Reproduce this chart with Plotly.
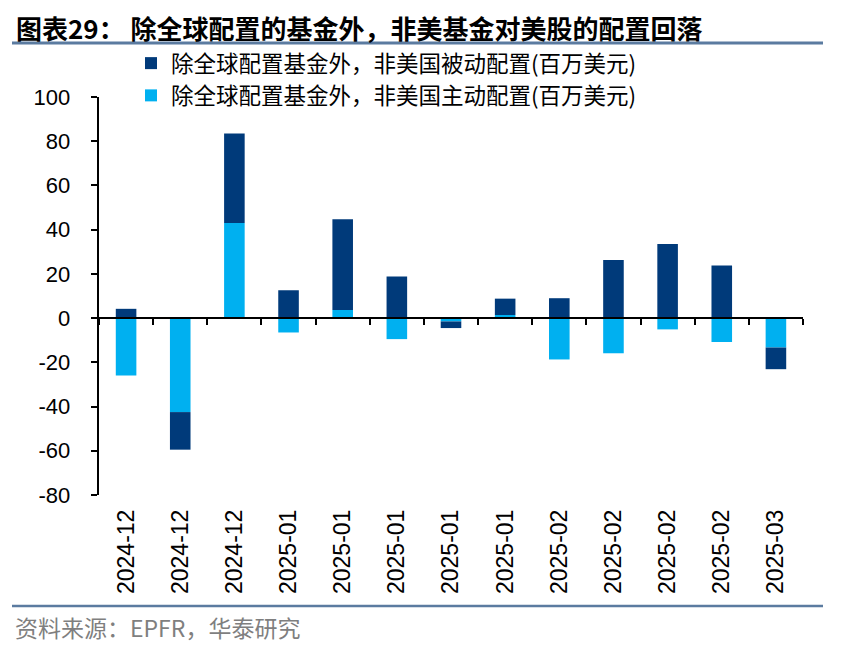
import plotly.graph_objects as go

# ---------------- data ----------------
categories = ["2024-12", "2024-12", "2024-12", "2025-01", "2025-01", "2025-01", "2025-01",
              "2025-01", "2025-02", "2025-02", "2025-02", "2025-02", "2025-03"]
passive = [4.2, -17.0, 40.5, 12.6, 41.0, 18.8, -3.0, 7.4, 9.0, 26.3, 33.5, 23.8, -9.8]
active = [-26.0, -42.5, 43.0, -6.5, 3.7, -9.5, -1.5, 1.4, -18.7, -15.9, -5.1, -10.8, -13.3]
passive_name = "除全球配置基金外，非美国被动配置(百万美元)"
active_name = "除全球配置基金外，非美国主动配置(百万美元)"
y_ticks = [-80, -60, -40, -20, 0, 20, 40, 60, 80, 100]
y_ticktext = ["-80", "-60", "-40", "-20", "0", "20", "40", "60", "80", "100"]
title_text = "图表29： 除全球配置的基金外，非美基金对美股的配置回落"
source_text = "资料来源：EPFR，华泰研究"

# ---------------- layout helpers ----------------
W, H = 855, 653
ML, MR, MT, MB = 99, 52, 97, 158
PW, PH = W - ML - MR, H - MT - MB


def px_x(x):
    return (x - ML) / PW


def px_y(y):
    return (H - MB - y) / PH


CJK = "Noto Sans CJK SC"
LAT = "Liberation Sans, Arial"
DARK = "#003A7A"
LIGHT = "#00B0F0"
RULE = "#5B7BA0"

idx = list(range(len(categories)))
xr = [-0.5, len(categories) - 0.5]
ymin, ymax = y_ticks[0], y_ticks[-1]
pad = "\u00a0\u00a0\u2009"

fig = go.Figure()
fig.add_bar(x=idx, y=active, name=active_name, marker_color=LIGHT, marker_line_width=0)
fig.add_bar(x=idx, y=passive, name=passive_name, marker_color=DARK, marker_line_width=0)
# invisible helper trace so the zero-line axis (x2) is drawn
fig.add_scatter(x=[idx[0]], y=[0], xaxis="x2", mode="markers", marker_opacity=0,
                showlegend=False, hoverinfo="skip")

fig.update_layout(
    width=W, height=H,
    margin=dict(l=ML, r=MR, t=MT, b=MB),
    paper_bgcolor="white", plot_bgcolor="white",
    barmode="relative", bargap=0.62,
    showlegend=True,
    legend=dict(x=px_x(131), y=px_y(42), xanchor="left", yanchor="top",
                traceorder="reversed", bgcolor="rgba(0,0,0,0)",
                font=dict(family=CJK, size=22.5, color="#000000"),
                itemclick=False),
    xaxis=dict(range=xr, tickmode="array", tickvals=idx, ticktext=categories,
               tickangle=-90, showline=False, ticks="", showgrid=False, zeroline=False,
               tickfont=dict(family=LAT, size=23, color="#000000"),
               ticklabelstandoff=9),
    xaxis2=dict(range=xr, overlaying="x", anchor="free",
                position=(0 - ymin) / (ymax - ymin), side="bottom",
                tickmode="array", tickvals=[i - 0.5 for i in range(len(categories) + 1)],
                ticks="outside", ticklen=6, tickwidth=1.5, tickcolor="#000000",
                showline=True, linecolor="#000000", linewidth=1.5,
                showticklabels=False, showgrid=False, zeroline=False),
    yaxis=dict(range=[ymin, ymax], tickmode="array", tickvals=y_ticks,
               ticktext=[t + pad for t in y_ticktext],
               ticks="outside", ticklen=6, tickwidth=1.5, tickcolor="#000000",
               showline=True, linecolor="#000000", linewidth=1.5,
               showgrid=False, zeroline=False,
               tickfont=dict(family=LAT, size=22, color="#000000")),
    shapes=[
        dict(type="line", xref="paper", yref="paper", x0=px_x(12), x1=px_x(823),
             y0=px_y(43), y1=px_y(43), line=dict(color=RULE, width=3)),
        dict(type="line", xref="paper", yref="paper", x0=px_x(12), x1=px_x(823),
             y0=px_y(606), y1=px_y(606), line=dict(color=RULE, width=2.5)),
    ],
    annotations=[
        dict(text="<b>" + title_text + "</b>", xref="paper", yref="paper",
             x=px_x(14), y=px_y(27), xanchor="left", yanchor="middle", showarrow=False,
             font=dict(family=CJK, size=26, color="#000000")),
        dict(text=source_text, xref="paper", yref="paper",
             x=px_x(13), y=px_y(627), xanchor="left", yanchor="middle", showarrow=False,
             font=dict(family=CJK, size=23, color="#7F7F7F")),
    ],
)

fig.write_html("out.html", config={"displayModeBar": False},
               post_script="document.body.style.margin='0';")
